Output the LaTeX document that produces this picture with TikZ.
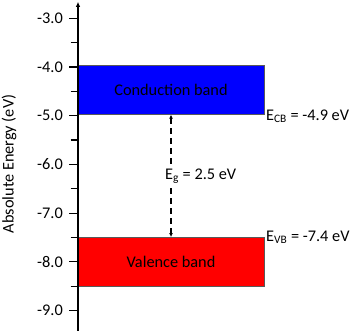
\documentclass[tikz,border=0pt]{standalone}
\usepackage{fontspec}
\setmainfont{Carlito}
\usetikzlibrary{arrows.meta}

\begin{document}
\begin{tikzpicture}[x=1pt, y=48.7pt, line cap=butt, line join=miter,
  font=\fontsize{16.3pt}{19pt}\selectfont]
  \def\ax{78} % vi tri truc nang luong
  \tikzset{
    axis/.style={line width=1.5pt, draw=black, -{Latex[length=5pt, width=4.5pt]}},
    tick/.style={line width=1.2pt, draw=black},
    ticklabel/.style={anchor=east, inner sep=1pt},
    band/.style={draw=black!65, line width=0.9pt, minimum width=186pt, inner sep=0pt},
    gap/.style={line width=1.2pt, dash pattern=on 5.5pt off 4.5pt,
      {Latex[length=4pt, width=4pt]}-{Latex[length=4pt, width=4pt]}},
    level/.style={anchor=base west, inner sep=1.5pt}
  }
  \useasboundingbox (0,-9.42) rectangle (350,-2.624);

  % bang nang luong
  \node[band, fill=blue, minimum height=49.2pt] (cb) at (171,-4.465) {Conduction band};
  \node[band, fill=red, minimum height=48.7pt] (vb) at (171,-8.0) {Valence band};

  % truc
  \coordinate (axbot) at (\ax,-9.42);
  \coordinate (axtop) at (\ax,-2.66);
  \draw[axis] (axbot) -- (axtop);
  \foreach \e in {3,...,9} {
    \draw[tick] (69,-\e) -- (\ax,-\e);
    \node[ticklabel] (t\e) at (64,-\e) {-\e.0};
  }
  \foreach \e in {3.5,4.5,...,8.5}
    \draw[tick] (70.5,-\e) -- (\ax,-\e);
  \node[rotate=90] (ylab) at (9,-5.99) {Absolute Energy (eV)};

  % khe nang luong
  \draw[gap] (cb.south) -- (vb.north);
  \node[level, fill=white, inner sep=2pt] (eg) at (163,-6.30) {E\textsubscript{g} = 2.5 eV};
  \node[level] (ecb) at (264.5,-5.09) {E\textsubscript{CB} = -4.9 eV};
  \node[level] (evb) at (264.5,-7.573) {E\textsubscript{VB} = -7.4 eV};

\end{tikzpicture}
\end{document}
